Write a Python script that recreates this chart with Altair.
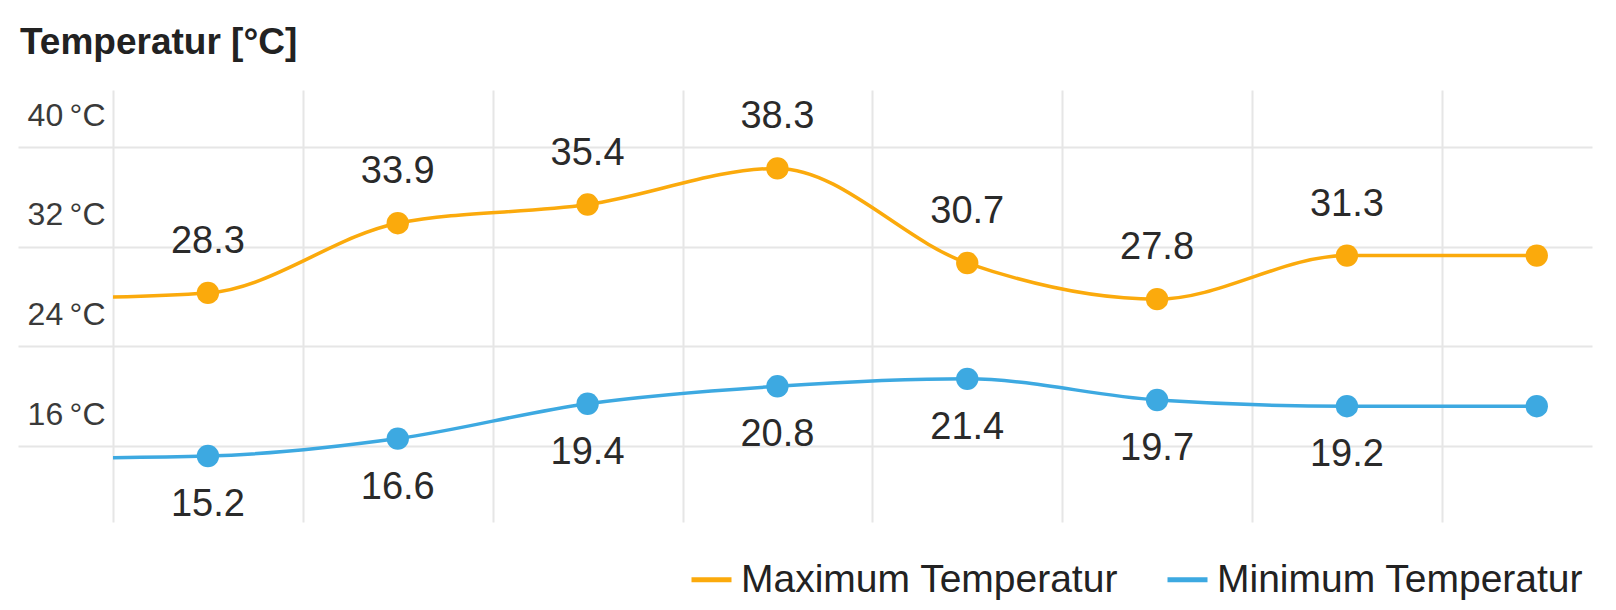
import altair as alt
import pandas as pd

# ---- data ----
day_index = [-1, 0, 1, 2, 3, 4, 5, 6, 7]          # -1 = point just left of the visible window
max_temp = [27.8, 28.3, 33.9, 35.4, 38.3, 30.7, 27.8, 31.3, 31.3]
min_temp = [15.0, 15.2, 16.6, 19.4, 20.8, 21.4, 19.7, 19.2, 19.2]
show_label = [False, True, True, True, True, True, True, True, False]
series_names = ["Maximum Temperatur", "Minimum Temperatur"]
series_colors = ["#FBAA0C", "#3DA9E1"]
y_ticks = [16, 24, 32, 40]
x_grid = [-0.5, 0.5, 1.5, 2.5, 3.5, 4.5, 5.5, 6.5]

rows = []
for i, mx, mn, sl in zip(day_index, max_temp, min_temp, show_label):
    rows.append({"idx": i, "temp": mx, "series": series_names[0], "lab": sl})
    rows.append({"idx": i, "temp": mn, "series": series_names[1], "lab": sl})
df = pd.DataFrame(rows)

GRID = "#e6e6e6"
FONT = "Liberation Sans"

x = alt.X(
    "idx:Q",
    scale=alt.Scale(domain=[-0.5, 7.291], nice=False, zero=False),
    axis=alt.Axis(values=x_grid, grid=True, labels=False, ticks=False, domain=False,
                  title=None, gridColor=GRID, gridWidth=2),
)
y = alt.Y(
    "temp:Q",
    scale=alt.Scale(domain=[9.9, 44.6], nice=False, zero=False),
    axis=alt.Axis(values=y_ticks, grid=True, gridColor=GRID, gridWidth=2,
                  ticks=True, tickSize=95, tickColor=GRID, tickWidth=2,
                  domain=False, title=None,
                  labelExpr="datum.value + '\u2009°C'",
                  labelFontSize=32, labelColor="#3a3a3a", labelFont=FONT,
                  labelAlign="right", labelBaseline="alphabetic",
                  labelPadding=-87, labelOffset=-22),
)
color = alt.Color(
    "series:N",
    scale=alt.Scale(domain=series_names, range=series_colors),
    legend=alt.Legend(
        title=None, orient="none", legendX=576, legendY=467, direction="horizontal",
        symbolType="stroke", symbolSize=1600, symbolStrokeWidth=5,
        labelFontSize=39, labelFont=FONT, labelColor="#222222", labelLimit=1000,
        labelOffset=7, columnPadding=38, padding=0,
    ),
)
color_nolegend = alt.Color(
    "series:N",
    scale=alt.Scale(domain=series_names, range=series_colors),
    legend=None,
)

base = alt.Chart(df)

line = base.mark_line(interpolate="monotone", clip=True, strokeWidth=3.5).encode(
    x=x, y=y, color=color, detail="series:N"
)
points = base.transform_filter("datum.idx >= 0").mark_circle(size=500, opacity=1).encode(
    x=x, y=y, color=color_nolegend
)
labels_max = base.transform_filter(
    (alt.datum.series == series_names[0]) & (alt.datum.lab == True)
).mark_text(fontSize=38, font=FONT, color="#2a2a2a", baseline="alphabetic", dy=-40).encode(
    x=x, y=y, text=alt.Text("temp:Q", format=".1f")
)
labels_min = base.transform_filter(
    (alt.datum.series == series_names[1]) & (alt.datum.lab == True)
).mark_text(fontSize=38, font=FONT, color="#2a2a2a", baseline="alphabetic", dy=60).encode(
    x=x, y=y, text=alt.Text("temp:Q", format=".1f")
)

chart = (
    alt.layer(line, points, labels_max, labels_min)
    .properties(
        width=1479,
        height=432,
        title=alt.TitleParams(
            "Temperatur [°C]", anchor="start", frame="group", orient="top",
            fontSize=37, font=FONT, fontWeight="bold", color="#222222",
            baseline="alphabetic", offset=37, dx=-93, dy=38,
        ),
        autosize=alt.AutoSizeParams(type="none"),
        padding={"left": 113, "top": 90, "right": 24, "bottom": 88},
        background="white",
    )
    .configure_view(stroke=None)
)

chart.save("out.html", embed_options={"renderer": "svg", "actions": False})
